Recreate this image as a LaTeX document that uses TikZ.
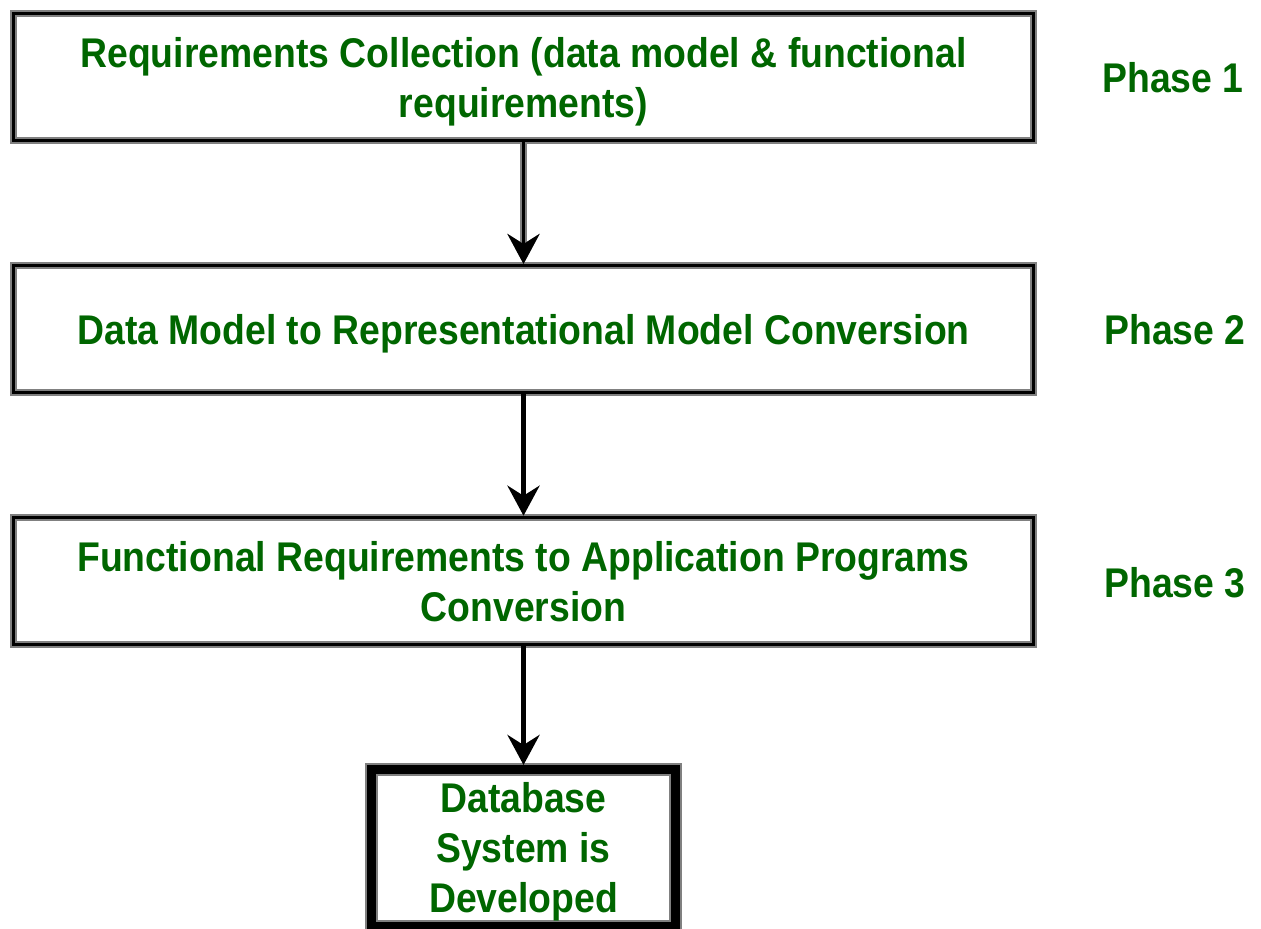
\documentclass[tikz,border=0pt]{standalone}
\usepackage{fontspec}
\setmainfont{Liberation Sans}[FakeStretch=0.9]
\usetikzlibrary{arrows.meta}
\definecolor{txtgreen}{RGB}{0,102,0}
\definecolor{edgegray}{RGB}{128,128,128}
\begin{document}
\begin{tikzpicture}[x=0.5pt,y=-0.5pt,
  box/.style={rectangle, inner sep=0pt, draw=black, line width=1.5pt,
    preaction={draw=edgegray, line width=3.5pt},
    minimum width=510pt, minimum height=63.75pt,
    text=txtgreen, align=center, text depth=0pt,
    font=\fontsize{20.75}{25}\selectfont\bfseries},
  finalbox/.style={box, line width=4.5pt, preaction={draw=edgegray, line width=6.5pt},
    minimum width=152pt, minimum height=78.25pt},
  phase/.style={text=txtgreen, inner sep=0pt, font=\fontsize{20.75}{25}\selectfont\bfseries},
  arr/.style={draw=black, line width=2.5pt, -{Stealth[length=15pt, width=16pt, inset=5pt]}},
  arrg/.style={arr, line width=1.5pt, preaction={draw=edgegray, line width=3.5pt, -{Stealth[length=15pt, width=16pt, inset=5pt]}}}
]
\useasboundingbox (0,0) rectangle (1261,929);
\node[box] (b1) at (523.5,77.25) {Requirements Collection (data model \& functional\\requirements)};
\node[box] (b2) at (523.5,329.25) {Data Model to Representational Model Conversion};
\node[box] (b3) at (523.5,581) {Functional Requirements to Application Programs\\Conversion};
\node[finalbox] (b4) at (523.5,847.75) {Database\\System is\\Developed};
\node[phase] (p1) at (1173,78) {Phase 1};
\node[phase] (p2) at (1175,330) {Phase 2};
\node[phase] (p3) at (1175,583) {Phase 3};
\draw[arrg] (b1.south) -- (b2.north);
\draw[arr] (b2.south) -- (b3.north);
\draw[arr] (b3.south) -- (b4.north);
\end{tikzpicture}
\end{document}
